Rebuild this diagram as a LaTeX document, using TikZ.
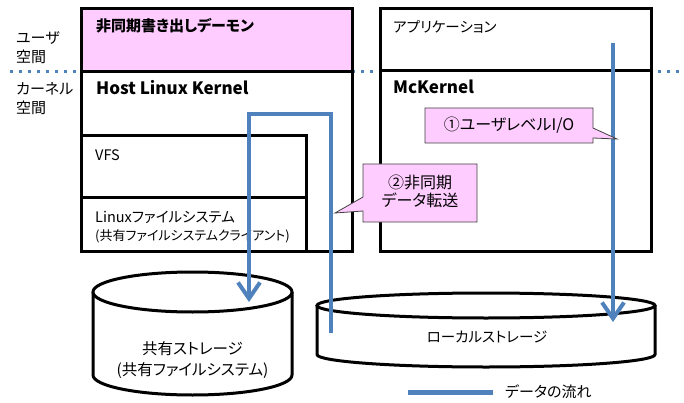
\documentclass[tikz,border=0pt]{standalone}
\usepackage{fontspec}
\setmainfont{Noto Sans CJK JP}[RawFeature=+palt]
\usetikzlibrary{arrows.meta,positioning}
\definecolor{flowblue}{HTML}{4F81BD}
\definecolor{pinkfill}{HTML}{FFCCFF}
\begin{document}
\begin{tikzpicture}[x=1pt,y=-1pt]
    \tikzset{frame/.style=   {draw,
                              line width=3pt,
                              fill=white},
             txt/.style=     {anchor=west,
                              inner sep=0pt,
                              font=\fontsize{14.5}{17}\selectfont},
             head/.style=    {txt,
                              font=\bfseries\fontsize{17}{20}\selectfont},
             mid/.style=     {align=center,
                              inner sep=0pt,
                              font=\fontsize{14.5}{20}\selectfont},
             flow/.style=    {draw=flowblue,
                              line width=4pt},
             bubble/.style=  {draw=black!75,
                              line width=0.8pt,
                              fill=pinkfill},
            }
    \useasboundingbox (0,0) rectangle (684,403);
    % user / kernel border
    \draw[flowblue, line width=3pt, dash pattern=on 3pt off 6pt] (10,72) -- (680,72);
    % host side
    \draw[frame] (81,9) rectangle (352,251);
    \draw[frame, fill=pinkfill] (81,9) rectangle (352,72);
    \draw[frame] (81,136) rectangle (306,251);
    \draw[line width=3pt] (81,198) -- (306,198);
    % McKernel side
    \draw[frame] (380,9) rectangle (651,251);
    \draw[line width=3pt] (380,71) -- (651,71);
    % storages
    \fill[white] (93,292) -- (93,375) arc[start angle=180, end angle=0, x radius=99.5, y radius=20] -- (292,292) -- cycle;
    \draw[line width=3pt] (93,292) -- (93,375) arc[start angle=180, end angle=0, x radius=99.5, y radius=20] -- (292,292);
    \draw[frame] (192.5,292) ellipse[x radius=99.5, y radius=20];
    \fill[white] (317,305.5) -- (317,354.5) arc[start angle=180, end angle=0, x radius=169, y radius=12.5] -- (655,305.5) -- cycle;
    \draw[line width=3pt] (317,305.5) -- (317,354.5) arc[start angle=180, end angle=0, x radius=169, y radius=12.5] -- (655,305.5);
    \draw[frame] (486,305.5) ellipse[x radius=169, y radius=12.5];
    \path
    (16,47.5)  node[txt, align=left, font=\fontsize{15}{19}\selectfont](us) {ユーザ\\空間}
    (16,99)    node[txt, align=left, font=\fontsize{15}{19}\selectfont](ks) {カーネル\\空間}
    (96,26)    node[head, font=\bfseries\fontsize{15}{18}\selectfont](dm) {非同期書き出しデーモン}
    (96,88)    node[head](hk) {Host Linux Kernel}
    (95,155)   node[txt](vfs) {VFS}
    (95,217)   node[txt](lfs) {Linuxファイルシステム}
    (95,236)   node[txt, font=\fontsize{13}{15}\selectfont](cl) {(共有ファイルシステムクライアント)}
    (393,27)   node[txt](app) {アプリケーション}
    (393,87)   node[head](mk) {McKernel}
    (192.5,360.5) node[mid, font=\fontsize{15.5}{21}\selectfont](ss) {共有ストレージ\\(共有ファイルシステム)}
    (487,337)  node[mid](ls) {ローカルストレージ}
    ;
    % data flow
    \coordinate (lsin)  at (331,333);
    \coordinate (top)   at (290,114);
    \coordinate (ssin)  at (249,302);
    \coordinate (appio) at (613,43);
    \coordinate (lsout) at (613,322);
    \draw[flow, -{Straight Barb[length=16pt,width=22pt]}] (lsin) |- (top) -| (ssin);
    \draw[flow, -{Straight Barb[length=16pt,width=22pt]}] (appio) -- (lsout);
    % callouts
    \draw[bubble] (425,108) -- (593,108) -- (593,128) -- (617,139) -- (593,138) -- (593,143) -- (425,143) -- cycle;
    \draw[bubble] (363,164) -- (477,164) -- (477,222) -- (363,222) -- (363,211) -- (335,213) -- (363,197) -- cycle;
    \path
    (509,125)  node[mid, font=\fontsize{16}{18}\selectfont](c1) {①ユーザレベルI/O}
    (420,191)  node[mid, font=\fontsize{16}{18}\selectfont](c2) {②非同期\\データ転送}
    ;
    % legend
    \coordinate (la) at (408,392);
    \coordinate (lb) at (493,392);
    \draw[flow, line width=5pt] (la) -- (lb);
    \node[txt, right=12pt of lb, font=\fontsize{15}{17}\selectfont](lg) {データの流れ};
\end{tikzpicture}
\end{document}
